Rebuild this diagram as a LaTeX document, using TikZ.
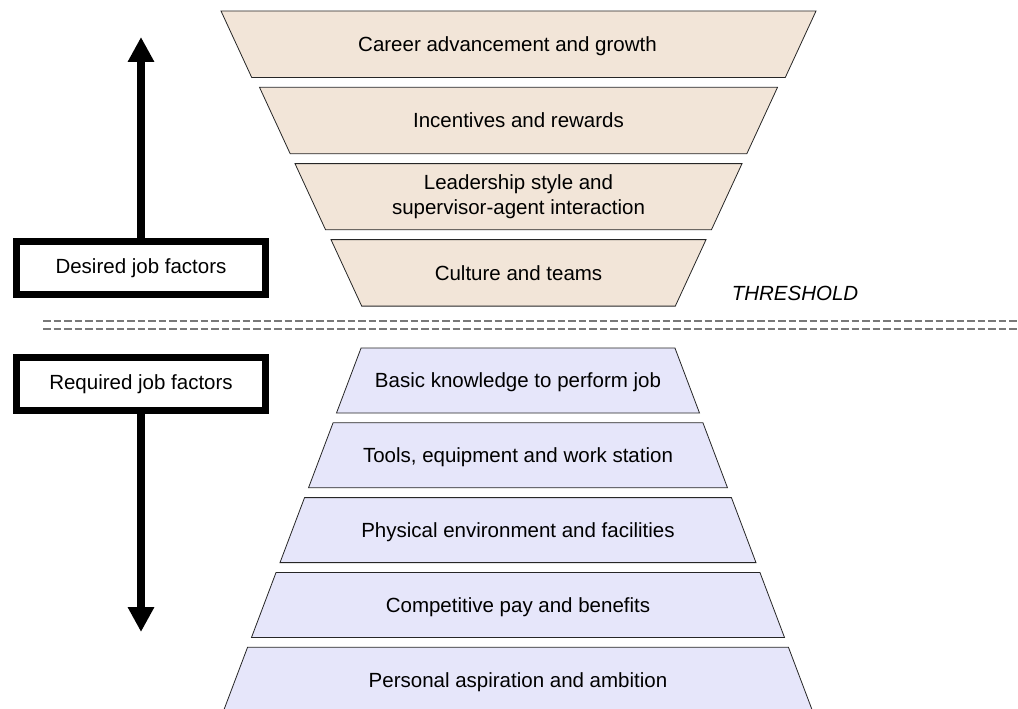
\documentclass[tikz,border=0pt]{standalone}
\usepackage{fontspec}
\setmainfont{Liberation Sans}
\usetikzlibrary{arrows.meta, positioning, shapes.geometric}

\definecolor{desiredfill}{RGB}{242,229,216}
\definecolor{requiredfill}{RGB}{230,230,250}
\definecolor{dashgray}{RGB}{120,120,120}

\begin{document}
\begin{tikzpicture}[
  x=1pt, y=-1pt,
  node distance=9pt,
  every node/.style={align=center, font=\fontsize{20.5}{24.5}\selectfont},
  layer/.style={draw=black!85, line width=0.8pt, trapezium, trapezium stretches body,
    inner xsep=0pt, text height=17pt, text depth=2.5pt},
  desired/.style={layer, fill=desiredfill, trapezium angle=114.8, inner ysep=23.5pt},
  required/.style={layer, fill=requiredfill, trapezium angle=69.3, inner ysep=22.75pt},
  factor/.style={draw, line width=7pt, minimum width=249pt, minimum height=53pt},
  arrow/.style={-{Triangle[length=25pt, width=25pt]}, line width=7.5pt},
  threshold/.style={draw=dashgray, line width=1.3pt, dash pattern=on 7.5pt off 3pt}
]
\useasboundingbox (0,0) rectangle (1018,709);

% Desired factors (funnel above the threshold)
\node[desired, minimum width=595pt] (career) at (518.5,44.25) {Career advancement and growth\hspace*{22pt}};
\node[desired, minimum width=518pt, below=of career] (incentives) {Incentives and rewards};
\node[desired, minimum width=447pt, below=of incentives, text height=, text depth=, inner ysep=11.3pt] (leadership) {Leadership style and\\supervisor-agent interaction};
\node[desired, minimum width=375pt, below=of leadership] (culture) {Culture and teams};

% Required factors (pyramid below the threshold)
\node[required, minimum width=363pt] (knowledge) at (518,380.5) {Basic knowledge to perform job};
\node[required, minimum width=419pt, below=of knowledge] (tools) {Tools, equipment and work station};
\node[required, minimum width=476pt, below=of tools] (environment) {Physical environment and facilities};
\node[required, minimum width=533pt, below=of environment] (pay) {Competitive pay and benefits};
\node[required, minimum width=590pt, below=of pay] (aspiration) {Personal aspiration and ambition};

% Side labels
\node[factor] (desiredbox) at (141,268) {Desired job factors};
\node[factor] (requiredbox) at (141,384) {Required job factors};
\coordinate (uptip) at (141,37);
\coordinate (downtip) at (141,632);
\draw[arrow] (desiredbox) -- (uptip);
\draw[arrow] (requiredbox) -- (downtip);

% Threshold
\node[font=\itshape\fontsize{20.5}{24.5}\selectfont] (thrlabel) at (795,293) {THRESHOLD};
\coordinate (thr-w) at (43,321);
\coordinate (thr-e) at (1018,321);
\draw[threshold] (thr-w) -- (thr-e);
\draw[threshold] ([yshift=-8pt]thr-w) -- ([yshift=-8pt]thr-e);

\end{tikzpicture}
\end{document}
